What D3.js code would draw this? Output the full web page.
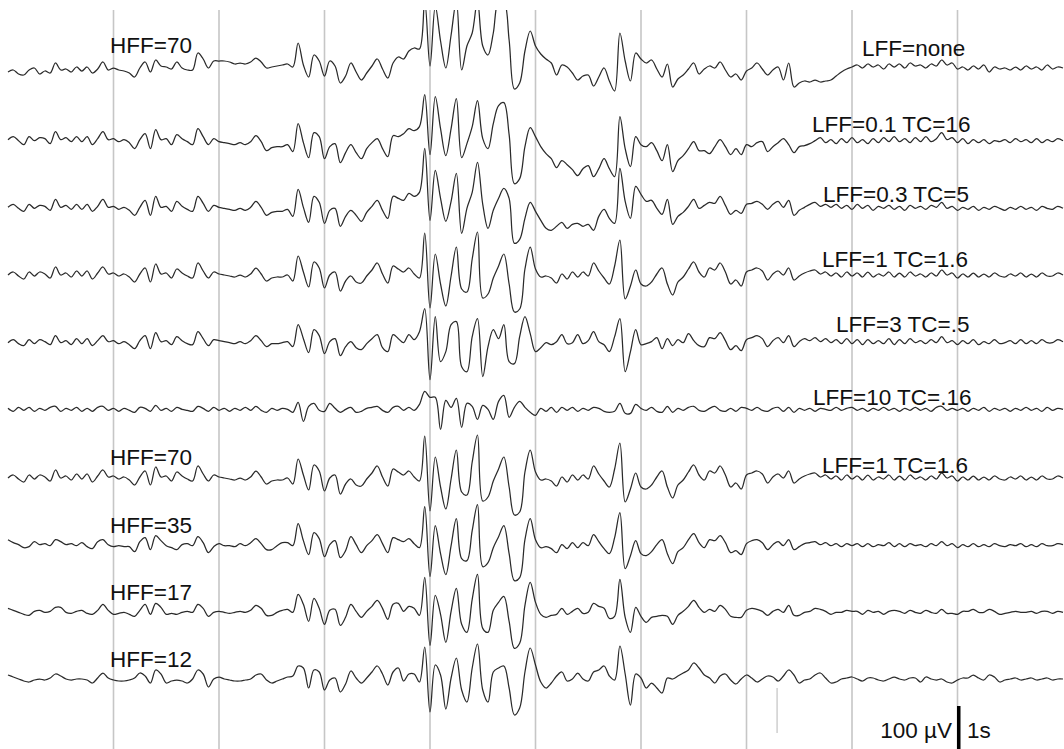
<!DOCTYPE html>
<html>
<head>
<meta charset="utf-8">
<script src="https://cdn.jsdelivr.net/npm/d3@7"></script>
<style>
  html, body { margin: 0; padding: 0; background: #fff; }
  svg { display: block; }
  text { font-family: "Liberation Sans", Arial, Helvetica, sans-serif; font-size: 22.5px; fill: #111; }
</style>
</head>
<body>
<svg id="chart" width="1064" height="749"></svg>
<script>
// ---------------- DATA ----------------
// sampling: 20 samples per second over 10 s (201 samples per trace)
const sampleRate = 20;
const durationSec = 10;
const gridSeconds = [1, 2, 3, 4, 5, 6, 7, 8, 9];
const markerSeconds = [7.29];

// amplitudes (display units; scale bar 100 µV ≈ 43 units), positive = up
const lffNone = [
-1,1,-3,-4,1,3,-3,0,-2,8,1,2,-1,4,0,4,-2,2,9,1,
3,1,0,-2,-6,3,9,-1,11,5,4,2,9,3,1,1,18,12,3,10,
10,10,9,7,8,7,9,13,9,3,4,5,6,7,4,28,6,-6,16,10,
-5,10,5,-12,-5,8,-1,-9,-2,5,12,2,-7,8,14,12,20,23,22,70,
5,65,30,3,36,70,1,25,38,70,25,16,38,70,70,31,-18,-12,20,40,
25,17,12,8,-4,6,4,-2,-9,-5,-4,-15,-6,3,-10,-20,38,10,-10,18,
12,8,11,2,-6,7,-16,-8,-4,2,8,-3,2,5,3,9,1,-6,-3,-9,
0,3,8,2,-4,1,4,-9,8,-16,-12,-10,-11,-9,-11,-10,-9,-5,-1,2,
4,6,3,7,4,6,2,7,4,7,3,8,5,6,3,7,5,11,6,8,
2,4,1,5,2,6,-1,4,2,3,1,4,1,5,2,4,1,6,2,4,3];

const lff01 = [
-1,2,-2,-6,2,-2,1,0,-5,7,-1,1,-3,2,-3,2,-6,0,7,-1,
0,-3,-1,-4,-10,-1,5,-10,9,-1,0,-6,4,0,-3,-6,10,2,-6,0,
-3,-4,-5,-6,-4,-6,-3,3,-3,-12,-9,-8,-8,-6,-13,15,-4,-19,6,2,
-20,-8,-5,-24,-14,-6,-14,-20,-10,-4,0,-10,-18,3,2,5,10,8,12,44,
-16,42,10,-17,10,40,-19,-5,12,38,0,-10,15,33,36,4,-45,-40,-8,11,
2,-8,-15,-20,-29,-22,-26,-31,-37,-30,-27,-38,-30,-20,-30,-38,22,-10,-28,2,
-6,-8,-4,-12,-22,-6,-33,-22,-17,-10,-3,-12,-12,-15,-8,-1,-8,-16,-10,-16,
-6,-8,-4,-3,-13,-8,-4,0,-6,-14,-8,-7,-5,-2,1,-4,-1,-5,0,-4,
1,-4,-1,-5,0,-4,1,-3,2,-3,0,-4,1,-3,2,-3,0,6,-1,1,
-4,0,-5,-1,-4,-1,-5,-2,-3,-1,-4,0,-3,-1,-4,0,-4,-1,-3,0,-2];

const lff03 = [
-1,2,-2,-5,2,-2,1,0,-4,7,-1,1,-3,2,-3,2,-5,0,7,-1,
0,-3,-1,-4,-9,-1,6,-9,10,-1,0,-5,5,0,-3,-5,10,3,-5,1,
-1,-2,-3,-4,-2,-4,-1,5,-1,-9,-6,-5,-5,-3,-10,17,-1,-16,10,4,
-17,-4,-2,-20,-10,-4,-9,-15,-6,0,6,-4,-12,10,8,6,13,10,14,58,
-14,36,8,-15,5,33,-27,-2,14,44,2,-22,-4,8,18,8,-37,-33,-12,4,
-5,-14,-22,-24,-20,-16,-22,-18,-17,-20,-18,-24,-10,-3,-12,-17,38,5,-12,20,
12,5,6,-2,-8,7,-18,-10,-6,0,7,-2,1,4,3,10,1,-8,-4,-7,
2,3,5,2,-3,2,5,-1,6,-9,-4,-1,2,4,0,2,-1,2,-2,1,
-3,2,-2,1,-4,0,-2,1,-3,0,-4,1,-2,0,-3,1,-1,4,-2,0,
-4,-1,-3,0,-4,-1,-3,0,-2,-4,-1,-3,0,-3,-1,-4,0,-2,-3,0,-2];

const lff1 = [
-1,2,-2,-5,2,-2,2,0,-4,7,-1,1,-3,3,-2,3,-5,1,7,0,
1,-2,0,-3,-8,0,6,-8,10,0,1,-4,5,1,-2,-4,11,3,-4,2,
0,-1,-2,-3,-1,-3,0,6,0,-7,-4,-3,-3,-1,-7,18,2,-13,12,6,
-14,-1,2,-17,-7,-2,-8,-9,-2,4,11,0,-9,8,5,2,6,0,-4,41,
-34,20,-10,-32,-2,27,-15,-18,15,42,-24,-20,-4,8,20,-10,-38,-35,5,27,
5,-3,-2,-4,-9,0,-5,2,-3,2,-2,11,3,-4,-10,8,34,-25,-12,4,
-10,-12,-8,0,6,-10,-21,-8,-3,5,12,2,-3,6,4,11,2,-10,-6,-12,
2,4,6,3,-6,0,3,-1,6,-6,-2,1,3,4,0,2,-2,1,-3,2,
-2,1,-3,2,-3,0,-2,2,-3,1,-3,2,-2,0,-3,1,-2,4,-1,1,
-4,0,-3,1,-3,0,-3,1,-2,-3,0,-2,1,-3,0,-3,1,-2,-2,1,-1];

const lff3 = [
-1,2,-2,-4,2,-2,2,0,-3,6,-1,1,-3,3,-2,3,-4,1,6,0,
1,-2,0,-3,-7,1,6,-7,9,0,1,-3,5,1,-2,-3,10,3,-4,2,
1,0,-1,-2,0,-2,1,6,1,-5,-2,-2,-1,0,-5,17,3,-11,12,6,
-12,0,3,-14,-5,0,-6,-8,-2,3,7,-6,-10,7,3,-1,7,2,10,33,
-38,25,-20,-10,17,20,-25,-30,5,23,-35,-5,12,3,17,-20,-22,5,25,8,
-10,-6,-1,-3,0,7,-2,-1,7,-2,1,10,0,-3,-10,5,23,-30,-10,12,
-3,-2,0,4,-7,3,-4,2,-1,8,1,-4,-5,4,3,9,1,-8,-4,-9,
2,4,6,3,-5,1,4,-1,6,-5,0,3,1,4,0,3,-1,2,-2,3,
-2,2,-3,2,-2,1,-2,3,-3,2,-2,3,-1,1,-2,2,-1,5,-1,1,
-3,1,-2,2,-3,0,-2,2,-2,-1,1,-2,2,-2,1,-2,2,-1,-1,2,0];

const lff10 = [
1,-2,2,-1,2,-2,1,-1,2,3,-2,1,-1,2,-2,1,-2,2,3,-1,
1,-2,1,-1,-3,2,1,-2,4,-1,1,-2,2,0,-1,-2,3,1,-2,2,
-1,1,-2,1,-1,2,-1,3,-1,-3,1,-1,1,0,-3,7,-12,3,6,-1,
-2,6,1,-3,0,2,-3,-2,1,2,3,-1,-3,2,3,-1,2,-1,5,18,
12,12,-20,9,2,11,-18,6,3,-10,4,0,-10,8,14,-8,2,8,2,-3,
-6,1,-2,2,-3,2,-1,2,-2,1,-1,2,1,-2,-3,-2,6,-4,-4,5,
1,-1,2,-2,-3,3,-3,1,-1,2,3,-1,-2,1,3,-1,-2,1,-2,2,
1,-1,2,-1,-2,1,2,-2,2,-3,1,-1,1,-2,1,0,-1,2,-1,1,
2,-1,1,-2,1,-1,2,-1,1,-2,1,-1,2,-1,1,-2,2,3,-1,1,
-1,1,-2,1,-1,2,-2,1,-1,1,-2,1,-1,2,-1,1,-2,2,-1,1,0];

const hff35 = [
5,2,0,-3,-2,3,0,1,-1,5,3,0,1,-1,2,-2,-4,3,5,0,
-2,-1,-2,-2,-7,3,7,-5,9,4,-1,-3,-5,0,1,-1,8,2,-8,-2,
1,-1,-1,-2,1,-1,2,6,1,-5,-5,-1,2,2,-1,21,4,-10,12,6,
-12,0,4,-13,-6,8,0,-8,-1,4,10,1,-8,7,5,3,6,1,-3,38,
-32,19,-9,-30,-1,26,-14,-16,14,40,-22,-18,-3,8,19,-9,-36,-33,5,26,
5,-3,-2,-4,-8,0,-4,2,-3,2,-1,10,3,-4,-9,7,32,-24,-11,4,
-9,-11,-7,0,5,-9,-19,-7,-3,5,11,2,-3,5,4,9,2,-8,-6,-10,
1,4,5,2,-5,0,3,-1,5,-5,-2,1,2,3,0,2,-1,1,-2,1,
-1,1,-2,1,-2,0,-1,2,-2,1,-2,1,-1,0,-2,1,-1,3,-1,1,
-3,0,-2,1,-2,0,-2,1,-1,-2,0,-1,1,-2,0,-2,1,-1,-1,1,0];

const hff17 = [
4,2,0,-2,-3,1,2,0,1,5,5,0,-1,1,2,-1,-2,2,8,2,
-2,-1,0,-2,-4,2,8,-2,9,5,-2,-1,-2,0,1,0,8,4,-4,0,
1,0,-1,0,1,0,2,7,4,-3,-3,0,2,3,0,18,8,-9,14,4,
-12,2,3,-13,-5,8,1,-5,1,6,12,4,-7,8,9,1,6,4,-3,35,
-33,17,-2,-30,1,24,-12,-20,13,38,-16,-20,2,10,16,-9,-36,-31,7,30,
10,-2,-5,-3,-2,4,-2,1,4,-1,0,9,6,4,-6,-4,33,-5,-20,5,
-4,-10,-5,-4,-3,-4,-12,-3,1,6,12,5,0,3,1,7,3,-4,-5,-5,
2,4,3,1,-3,1,3,0,7,-3,-3,0,1,4,3,1,-2,0,0,2,
1,1,-2,2,0,1,-2,1,2,1,-1,2,0,-1,2,0,-1,3,-1,-1,
-2,1,1,3,0,0,3,1,-2,-1,0,1,0,0,1,-1,1,1,-1,1,0];

const hff12 = [
5,3,1,-1,-2,0,1,0,2,6,4,1,0,1,1,0,-3,2,7,2,
0,-1,-1,0,2,7,4,-3,10,6,-3,-1,0,-1,-3,1,10,6,-7,1,
3,1,0,-1,-1,0,1,5,6,0,-3,-1,1,3,4,14,12,-8,10,8,
-10,0,2,-12,-4,9,2,-3,2,8,14,6,-5,8,12,-1,6,6,-2,33,
-32,15,5,-29,2,22,-10,-22,12,36,-10,-22,8,12,14,-8,-35,-28,8,32,
15,-2,-8,-3,4,8,-1,1,7,1,-1,8,10,14,4,0,34,6,-25,6,
2,-8,-3,-8,-13,2,1,4,7,10,17,12,5,2,-3,4,6,0,-4,1,
5,2,-2,1,4,3,-1,4,10,5,-3,0,1,5,7,2,-3,-2,1,2,
3,1,-1,2,2,0,-1,1,3,1,0,2,2,-2,3,1,0,1,-2,-3,
0,2,2,5,2,0,5,3,-2,0,1,2,0,1,2,0,1,2,0,1,1];

// trace order top to bottom (row 7 uses the same LFF=1 / HFF=70 recording as row 4)
const traceSeries = [lffNone, lff01, lff03, lff1, lff3, lff10, lff1, hff35, hff17, hff12];

const rightLabels = ["LFF=none", "LFF=0.1 TC=16", "LFF=0.3 TC=5", "LFF=1 TC=1.6", "LFF=3 TC=.5", "LFF=10 TC=.16", "LFF=1 TC=1.6"];
const leftLabels = ["HFF=70", "HFF=70", "HFF=35", "HFF=17", "HFF=12"];
const scaleText = ["100 µV", "1s"];

// ---------------- LAYOUT ----------------
const W = 1064, H = 749;
const plotTop = 10;
const rightLabelX = [862, 812, 823, 822, 836, 813, 822];
const rightLabelY = [56, 131.5, 201.5, 266.5, 331.5, 405, 473];
const leftLabelX = 110;
const leftLabelY = [53, 465, 533, 600, 667];

const svg = d3.select("#chart");

const x = d3.scaleLinear().domain([0, durationSec]).range([8, 1063]);
const row = d3.scalePoint().domain(d3.range(traceSeries.length)).range([71, 680]);
const amp = d3.scaleLinear().domain([-50, 50]).range([50, -50]);

// grid lines (one per second)
svg.append("g").selectAll("line").data(gridSeconds).join("line")
  .attr("x1", d => x(d)).attr("x2", d => x(d))
  .attr("y1", plotTop).attr("y2", H)
  .attr("stroke", "#c6c6c6").attr("stroke-width", 1.6);

// small time marker near the bottom
svg.append("g").selectAll("line").data(markerSeconds).join("line")
  .attr("x1", d => x(d)).attr("x2", d => x(d))
  .attr("y1", 688).attr("y2", 733)
  .attr("stroke", "#cfcfcf").attr("stroke-width", 1.5);

// clip so that saturated peaks are cut at the top edge
svg.append("defs").append("clipPath").attr("id", "clip")
  .append("rect").attr("x", 0).attr("y", plotTop).attr("width", W).attr("height", H - plotTop);

const traces = svg.append("g").attr("clip-path", "url(#clip)");
traceSeries.forEach((vals, r) => {
  const line = d3.line()
    .x((d, i) => x(i / sampleRate))
    .y(d => row(r) + amp(d))
    .curve(d3.curveCatmullRom.alpha(0.5));
  traces.append("path")
    .attr("d", line(vals))
    .attr("fill", "none")
    .attr("stroke", "#2a2a2a")
    .attr("stroke-width", 1.25)
    .attr("stroke-linejoin", "round");
});

// labels
svg.append("g").selectAll("text").data(rightLabels).join("text")
  .attr("x", (d, i) => rightLabelX[i]).attr("y", (d, i) => rightLabelY[i])
  .text(d => d);
svg.append("g").selectAll("text").data(leftLabels).join("text")
  .attr("x", leftLabelX).attr("y", (d, i) => leftLabelY[i])
  .text(d => d);

// scale bar
svg.append("rect").attr("x", 957).attr("y", 706).attr("width", 3.5).attr("height", 43).attr("fill", "#000");
svg.append("text").attr("x", 952).attr("y", 738).attr("text-anchor", "end").text(scaleText[0]);
svg.append("text").attr("x", 967).attr("y", 738).text(scaleText[1]);
</script>
</body>
</html>
